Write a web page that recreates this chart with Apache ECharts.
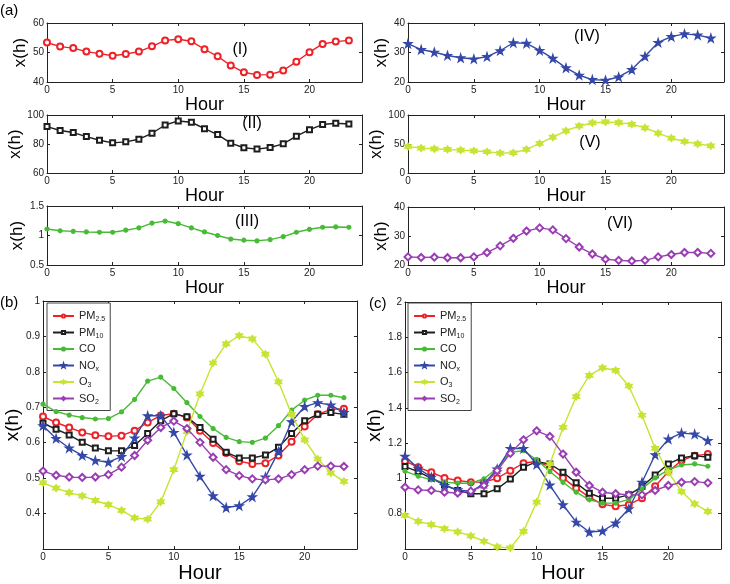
<!DOCTYPE html>
<html>
<head>
<meta charset="utf-8">
<script src="https://cdn.jsdelivr.net/npm/echarts@6/dist/echarts.min.js"></script>
<style>
html, body { margin: 0; padding: 0; background: #fff; }
#main { width: 730px; height: 584px; }
</style>
</head>
<body>
<div id="main"></div>
<script>
var chart = echarts.init(document.getElementById('main'));

// 小时
var hours = [0, 1, 2, 3, 4, 5, 6, 7, 8, 9, 10, 11, 12, 13, 14, 15, 16, 17, 18, 19, 20, 21, 22, 23];

// (a) 各污染物日变化
var pm25A = [53.4, 52.0, 51.5, 50.3, 49.6, 48.9, 49.5, 50.3, 52.1, 54.1, 54.5, 53.8, 51.1, 48.7, 45.6, 43.3, 42.4, 42.5, 43.9, 46.9, 50.1, 52.9, 53.7, 54.1];
var pm10A = [92.0, 89.3, 87.9, 85.1, 82.6, 80.8, 81.5, 83.3, 87.4, 93.1, 95.9, 95.0, 90.6, 86.5, 80.6, 77.4, 76.5, 77.6, 80.1, 85.4, 89.9, 93.4, 94.3, 93.8];
var coA = [1.11, 1.08, 1.07, 1.06, 1.055, 1.055, 1.09, 1.13, 1.21, 1.245, 1.2, 1.13, 1.06, 1.0, 0.94, 0.92, 0.91, 0.93, 0.98, 1.055, 1.105, 1.14, 1.145, 1.14];
var noxA = [33.0, 31.0, 30.1, 29.0, 28.2, 27.8, 28.6, 30.6, 33.3, 33.1, 30.7, 28.0, 24.8, 22.3, 20.8, 20.6, 21.7, 24.2, 28.7, 33.4, 35.4, 36.3, 35.9, 34.9];
var o3A = [45.7, 42.9, 41.7, 40.6, 39.4, 38.3, 36.6, 34.3, 34.9, 40.6, 50.9, 61.7, 72.6, 81.1, 86.3, 88.0, 86.9, 84.0, 77.7, 68.6, 60.0, 54.3, 50.3, 46.9];
var so2A = [22.8, 22.6, 22.7, 22.5, 22.5, 22.8, 24.3, 26.6, 29.2, 31.7, 32.8, 32.1, 29.1, 26.2, 23.8, 22.0, 21.6, 21.4, 21.6, 22.8, 23.6, 24.3, 24.3, 24.0];

// (b)
var pm25B = [0.674, 0.657, 0.643, 0.629, 0.621, 0.618, 0.620, 0.634, 0.657, 0.677, 0.682, 0.671, 0.634, 0.599, 0.571, 0.548, 0.540, 0.542, 0.564, 0.603, 0.646, 0.680, 0.694, 0.696];
var pm10B = [0.655, 0.638, 0.622, 0.601, 0.585, 0.577, 0.577, 0.592, 0.626, 0.662, 0.682, 0.673, 0.643, 0.610, 0.573, 0.557, 0.557, 0.565, 0.587, 0.626, 0.662, 0.680, 0.685, 0.680];
var coB = [0.709, 0.688, 0.678, 0.671, 0.667, 0.668, 0.687, 0.722, 0.774, 0.785, 0.753, 0.713, 0.674, 0.640, 0.615, 0.603, 0.601, 0.613, 0.648, 0.692, 0.720, 0.734, 0.734, 0.727];
var noxB = [0.648, 0.612, 0.585, 0.564, 0.550, 0.545, 0.561, 0.613, 0.676, 0.676, 0.629, 0.565, 0.505, 0.450, 0.417, 0.422, 0.447, 0.503, 0.575, 0.659, 0.702, 0.713, 0.706, 0.685];
var o3B = [0.487, 0.472, 0.459, 0.450, 0.437, 0.425, 0.409, 0.388, 0.384, 0.433, 0.524, 0.631, 0.738, 0.825, 0.879, 0.902, 0.893, 0.850, 0.772, 0.680, 0.608, 0.554, 0.515, 0.491];
var so2B = [0.520, 0.508, 0.503, 0.502, 0.503, 0.510, 0.531, 0.564, 0.607, 0.643, 0.661, 0.640, 0.601, 0.559, 0.524, 0.507, 0.498, 0.495, 0.498, 0.510, 0.524, 0.534, 0.534, 0.533];

// (c)
var pm25C = [1.099, 1.063, 1.035, 1.003, 0.988, 0.979, 0.979, 1.001, 1.044, 1.086, 1.097, 1.065, 1.003, 0.945, 0.894, 0.853, 0.842, 0.851, 0.888, 0.956, 1.039, 1.101, 1.129, 1.138];
var pm10C = [1.067, 1.039, 1.001, 0.964, 0.932, 0.913, 0.913, 0.941, 0.997, 1.063, 1.095, 1.082, 1.035, 0.975, 0.916, 0.888, 0.888, 0.907, 0.954, 1.020, 1.082, 1.116, 1.129, 1.120];
var coC = [1.041, 1.013, 0.992, 0.979, 0.973, 0.973, 0.998, 1.058, 1.148, 1.157, 1.106, 1.039, 0.978, 0.922, 0.879, 0.860, 0.860, 0.881, 0.941, 1.003, 1.048, 1.076, 1.082, 1.069];
var noxC = [1.125, 1.057, 1.007, 0.960, 0.935, 0.926, 0.970, 1.053, 1.170, 1.170, 1.080, 0.962, 0.851, 0.752, 0.696, 0.702, 0.747, 0.828, 0.978, 1.134, 1.223, 1.257, 1.251, 1.214];
var o3C = [0.790, 0.757, 0.738, 0.715, 0.697, 0.674, 0.644, 0.612, 0.606, 0.700, 0.866, 1.082, 1.289, 1.464, 1.584, 1.627, 1.612, 1.524, 1.358, 1.170, 1.035, 0.926, 0.856, 0.813];
var so2C = [0.950, 0.935, 0.932, 0.922, 0.917, 0.928, 0.960, 1.044, 1.142, 1.219, 1.270, 1.238, 1.138, 1.035, 0.960, 0.922, 0.913, 0.907, 0.907, 0.932, 0.960, 0.978, 0.982, 0.975];

var names = ['PM2.5', 'PM10', 'CO', 'NOx', 'O3', 'SO2'];
var legendText = {
	'PM2.5': 'PM{s|2.5}',
	'PM10': 'PM{s|10}',
	'CO': 'CO',
	'NOx': 'NO{s|x}',
	'O3': 'O{s|3}',
	'SO2': 'SO{s|2}'
};

var FONT = '"Liberation Sans", Arial, Helvetica, sans-serif';
var AXIS_COLOR = '#222';

var pentagram = 'path://M50 0 L61.2 34.5 L97.6 34.5 L68.2 55.9 L79.4 90.5 L50 69.1 L20.6 90.5 L31.8 55.9 L2.4 34.5 L38.8 34.5 Z';
var hexagram = 'path://M50 0 L64.4 25 L93.3 25 L78.9 50 L93.3 75 L64.4 75 L50 100 L35.6 75 L6.7 75 L21.1 50 L6.7 25 L35.6 25 Z';

// 样式: 颜色 / 标记
var styles = {
	'PM2.5': { color: '#ec2227', symbol: 'emptyCircle', size: 6 },
	'PM10': { color: '#1e1e1e', symbol: 'emptyRect', size: 5 },
	'CO': { color: '#47bb35', symbol: 'circle', size: 4 },
	'NOx': { color: '#3548a8', symbol: pentagram, size: 8 },
	'O3': { color: '#c6e433', symbol: hexagram, size: 7 },
	'SO2': { color: '#9a3db3', symbol: 'emptyDiamond', size: 7 }
};

// 每个子图
var panels = [
	{ left: 47, top: 23, width: 315, height: 59, min: 40, max: 60, step: 10, series: [['PM2.5', pm25A]], showMin: true, fs: 18, gapY: 12, gapX: 2 },
	{ left: 47, top: 115, width: 315, height: 58, min: 60, max: 100, step: 20, series: [['PM10', pm10A]], showMin: true, fs: 18, gapY: 12, gapX: 2 },
	{ left: 47, top: 206, width: 315, height: 59, min: 0.5, max: 1.5, step: 0.5, series: [['CO', coA]], showMin: true, fs: 18, gapY: 12, gapX: 2 },
	{ left: 408, top: 23, width: 316, height: 59, min: 20, max: 40, step: 10, series: [['NOx', noxA]], showMin: true, fs: 18, gapY: 16, gapX: 2 },
	{ left: 408, top: 115, width: 316, height: 58, min: 0, max: 100, step: 50, series: [['O3', o3A]], showMin: true, fs: 18, gapY: 16, gapX: 2 },
	{ left: 408, top: 207, width: 316, height: 58, min: 20, max: 40, step: 10, series: [['SO2', so2A]], showMin: true, fs: 18, gapY: 16, gapX: 2 },
	{ left: 43, top: 301, width: 314, height: 250, min: 0.3, max: 1, step: 0.1, showMin: false, fs: 20, gapY: 18, gapX: 14,
		series: [['PM2.5', pm25B], ['PM10', pm10B], ['CO', coB], ['NOx', noxB], ['O3', o3B], ['SO2', so2B]] },
	{ left: 405, top: 302, width: 316, height: 248, min: 0.6, max: 2, step: 0.2, showMin: false, fs: 20, gapY: 11, gapX: 14,
		series: [['PM2.5', pm25C], ['PM10', pm10C], ['CO', coC], ['NOx', noxC], ['O3', o3C], ['SO2', so2C]] }
];

var grid = [], xAxis = [], yAxis = [], series = [];

for(var k = 0; k < panels.length; k++) {
	var p = panels[k];
	grid.push({ left: p.left, top: p.top, width: p.width, height: p.height, containLabel: false });
	var tickStyle = { show: true, inside: true, length: 3, lineStyle: { color: AXIS_COLOR, width: 1 } };
	var lineStyle = { show: true, onZero: false, lineStyle: { color: AXIS_COLOR, width: 1 } };
	xAxis.push({
		type: 'value', gridIndex: k, position: 'bottom', min: 0, max: 24, interval: 5,
		axisLine: lineStyle, axisTick: tickStyle, splitLine: { show: false },
		axisLabel: { color: AXIS_COLOR, fontSize: 10, margin: 3, fontFamily: FONT, showMaxLabel: false },
		name: 'Hour', nameLocation: 'middle', nameGap: p.gapX,
		nameTextStyle: { fontSize: p.fs, color: '#000', fontFamily: FONT }
	});
	xAxis.push({
		type: 'value', gridIndex: k, position: 'top', min: 0, max: 24, interval: 5,
		axisLine: lineStyle, axisTick: tickStyle, splitLine: { show: false },
		axisLabel: { show: false }
	});
	yAxis.push({
		type: 'value', gridIndex: k, position: 'left', min: p.min, max: p.max, interval: p.step,
		axisLine: lineStyle, axisTick: tickStyle, splitLine: { show: false },
		axisLabel: { color: AXIS_COLOR, fontSize: 10, margin: 3, fontFamily: FONT, showMinLabel: p.showMin },
		name: 'x(h)', nameLocation: 'middle', nameGap: p.gapY,
		nameTextStyle: { fontSize: p.fs - 1, color: '#000', fontFamily: FONT }
	});
	yAxis.push({
		type: 'value', gridIndex: k, position: 'right', min: p.min, max: p.max, interval: p.step,
		axisLine: lineStyle, axisTick: tickStyle, splitLine: { show: false },
		axisLabel: { show: false }
	});
	for(var j = 0; j < p.series.length; j++) {
		var nm = p.series[j][0];
		var vals = p.series[j][1];
		var st = styles[nm];
		series.push({
			name: nm,
			type: 'line',
			xAxisIndex: 2 * k,
			yAxisIndex: 2 * k,
			data: hours.map(function(h, i) { return [h, vals[i]]; }),
			symbol: st.symbol,
			symbolSize: st.size,
			showAllSymbol: true,
			color: st.color,
			lineStyle: { width: 1.4, color: st.color },
			itemStyle: { color: st.color, borderColor: st.color, borderWidth: 1.2 },
			z: 2 + j,
			animation: false
		});
	}
}

function makeLegend(left, top) {
	return {
		left: left, top: top, orient: 'vertical',
		data: names,
		itemWidth: 21, itemHeight: 4, itemGap: 2.5,
		padding: [6, 5, 5, 5],
		borderColor: '#444', borderWidth: 1, backgroundColor: '#fff',
		selectedMode: false,
		formatter: function(name) { return legendText[name]; },
		textStyle: {
			fontSize: 11, color: '#222', fontFamily: FONT, lineHeight: 14,
			rich: { s: { fontSize: 7, lineHeight: 6, verticalAlign: 'bottom', fontFamily: FONT, color: '#222' } }
		}
	};
}

var texts = [
	['(a)', 0, 3, 15], ['(b)', 0, 295, 15], ['(c)', 369, 296, 15],
	['(I)', 240, 50, 16], ['(II)', 252, 124, 16], ['(III)', 247, 222, 16],
	['(IV)', 587, 37, 16], ['(V)', 590, 143, 16], ['(VI)', 620, 224, 16]
];
var graphic = texts.map(function(t, i) {
	var corner = i < 3;
	return {
		type: 'text',
		left: corner ? t[1] : undefined,
		top: corner ? t[2] : undefined,
		x: corner ? undefined : t[1],
		y: corner ? undefined : t[2],
		style: {
			text: t[0], fontSize: t[3], fill: '#000', fontFamily: FONT,
			textAlign: corner ? 'left' : 'center', textVerticalAlign: corner ? 'top' : 'middle'
		}
	};
});

var option = {
	backgroundColor: '#fff',
	animation: false,
	textStyle: { fontFamily: FONT },
	grid: grid,
	xAxis: xAxis,
	yAxis: yAxis,
	legend: [makeLegend(47, 303), makeLegend(408, 303)],
	graphic: graphic,
	series: series
};

chart.setOption(option);
</script>
</body>
</html>
